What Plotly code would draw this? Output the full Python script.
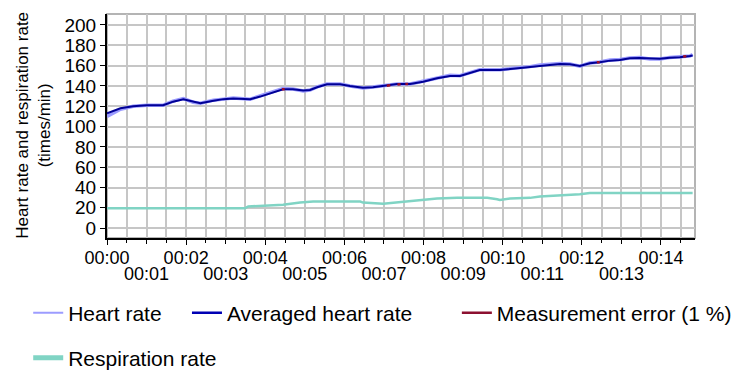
import plotly.graph_objects as go

# ---- data (minutes since start) ----
hr_time = [0.0, 0.34, 0.66, 1.01, 1.42, 1.67, 1.93, 2.18, 2.36, 2.69, 2.94, 3.19, 3.62, 3.87,
           4.12, 4.45, 4.70, 4.96, 5.13, 5.31, 5.56, 5.89, 6.14, 6.47, 6.72, 6.98, 7.33, 7.66,
           7.99, 8.34, 8.67, 8.92, 9.17, 9.42, 9.93, 10.35, 10.69, 10.94, 11.19, 11.45, 11.70,
           11.95, 12.20, 12.45, 12.71, 12.96, 13.21, 13.46, 13.72, 13.97, 14.22, 14.48, 14.73, 14.80]
heart_rate = [110, 117, 120, 121, 121, 125, 127.5, 124, 123, 126, 127, 128, 127, 130,
              133, 137.5, 137, 135, 136, 139, 142, 142, 140, 138, 139, 140, 142, 142,
              145, 148, 150.5, 150, 153, 156, 156, 157.5, 159, 160.5, 161, 162, 161.5,
              159.5, 162.5, 163.5, 165.5, 166, 167.5, 168, 166.5, 166.5, 168, 168.5, 169.5, 171]
avg_heart_rate = [113, 118, 120, 121, 121, 124.5, 126.9, 124.2, 123, 125.5, 127, 127.5, 127, 129.5,
                  132.8, 136.7, 136.7, 135.4, 136, 138.7, 141.6, 141.6, 140, 138.3, 138.7, 140, 141.9, 141.9,
                  144.2, 147.5, 149.8, 149.8, 153, 155.7, 155.7, 157.4, 159, 160.3, 160.7, 161.6, 161.3,
                  159.6, 162.3, 163.3, 164.9, 165.5, 167.2, 167.5, 166.8, 166.8, 167.8, 168.2, 169.5, 170]

err_time = [4.42, 4.49, None, 7.07, 7.16, None, 7.34, 7.42, None, 7.54, 7.61, None,
            12.38, 12.45, None, 14.56, 14.64]
err_value = [136.7, 136.7, None, 140.2, 140.6, None, 141.5, 141.7, None, 141.9, 141.9, None,
             163.2, 163.4, None, 169.0, 169.2]

resp_time = [0.0, 3.49, 3.57, 4.12, 4.45, 4.88, 5.21, 6.40, 6.47, 6.98, 7.33, 7.66, 7.99,
             8.34, 8.85, 9.61, 9.86, 9.93, 10.19, 10.69, 10.94, 11.45, 11.70, 11.95, 12.20, 14.80]
resp_rate = [19.7, 19.7, 21.3, 22, 23, 25.2, 26.2, 26.2, 25.2, 24, 25.2, 26.2, 27.8,
             29.1, 29.8, 29.8, 28.5, 27.8, 29.1, 29.8, 31.1, 32.1, 33, 33.4, 34.7, 34.7]

even_minutes = [0, 2, 4, 6, 8, 10, 12, 14]
even_labels = ["00:00", "00:02", "00:04", "00:06", "00:08", "00:10", "00:12", "00:14"]
odd_minutes = [1, 3, 5, 7, 9, 11, 13]
odd_labels = ["00:01", "00:03", "00:05", "00:07", "00:09", "00:11", "00:13"]
y_ticks = list(range(0, 201, 20))
y_title = "Heart rate and respiration rate<br>(times/min)"

FONT = "Liberation Sans, Arial, sans-serif"
XTICK_FS = 18
YTICK_FS = 19
LEG_FS = 21
TITLE_FS = 17
GRID = "#c6c6c6"

fig = go.Figure()
fig.add_trace(go.Scatter(x=hr_time, y=heart_rate, mode="lines", name="Heart rate",
                         line=dict(color="#9c9cff", width=3.5), showlegend=False))
fig.add_trace(go.Scatter(x=hr_time, y=avg_heart_rate, mode="lines", name="Averaged heart rate",
                         line=dict(color="#000096", width=2), showlegend=False))
fig.add_trace(go.Scatter(x=err_time, y=err_value, mode="lines", name="Measurement error (1 %)",
                         line=dict(color="#a0102a", width=2.5), showlegend=False))
fig.add_trace(go.Scatter(x=resp_time, y=resp_rate, mode="lines", name="Respiration rate",
                         line=dict(color="#80d4c4", width=2.5), showlegend=False))

# legend entries (one legend box per entry to place them like the reference)
fig.add_trace(go.Scatter(x=[None], y=[None], mode="lines", name="Heart rate",
                         line=dict(color="#9c9cff", width=2), legend="legend"))
fig.add_trace(go.Scatter(x=[None], y=[None], mode="lines", name="Averaged heart rate",
                         line=dict(color="#0000b4", width=2.5), legend="legend2"))
fig.add_trace(go.Scatter(x=[None], y=[None], mode="lines", name="Measurement error (1 %)",
                         line=dict(color="#8c1030", width=2.5), legend="legend3"))
fig.add_trace(go.Scatter(x=[None], y=[None], mode="lines", name="Respiration rate",
                         line=dict(color="#80d4c4", width=5), legend="legend4", xaxis="x2"))

legend_common = dict(font=dict(family=FONT, size=LEG_FS, color="black"), bgcolor="rgba(0,0,0,0)",
                     orientation="h", xanchor="left", yanchor="middle", borderwidth=0)
row1 = -0.335
row2 = -0.536
fig.update_layout(
    legend=dict(x=-0.134, y=row1, **legend_common),
    legend2=dict(x=0.136, y=row1, **legend_common),
    legend3=dict(x=0.595, y=row1, **legend_common),
    legend4=dict(x=-0.134, y=row2, **legend_common),
)

# the page body adds an 8 px offset, so the margins are shifted by 8 px
fig.update_layout(
    width=751, height=373,
    margin=dict(l=99, r=64, t=6, b=143, autoexpand=False),
    paper_bgcolor="white", plot_bgcolor="white",
    font=dict(family=FONT, size=XTICK_FS, color="black"),
    xaxis=dict(range=[0, 14.86], tickvals=even_minutes, ticktext=even_labels, tickangle=0,
               ticklabelstandoff=-3, automargin=False,
               showgrid=True, gridcolor=GRID, gridwidth=2,
               minor=dict(dtick=0.5, tick0=0, showgrid=True, gridcolor=GRID, gridwidth=2,
                          ticks="outside", ticklen=3, tickcolor="black"),
               ticks="outside", ticklen=5, tickcolor="black", tickwidth=1,
               showline=True, linecolor="black", linewidth=2, zeroline=False,
               tickfont=dict(family=FONT, size=XTICK_FS, color="black")),
    xaxis2=dict(matches="x", overlaying="x", side="bottom", anchor="y", automargin=False,
                tickvals=odd_minutes, ticktext=odd_labels, tickangle=0,
                ticklabelstandoff=14, showgrid=False, showline=False, zeroline=False,
                ticks="outside", ticklen=5, tickcolor="black",
                tickfont=dict(family=FONT, size=XTICK_FS, color="black")),
    yaxis=dict(range=[-9.7, 210.8], tickvals=y_ticks, automargin=False,
               showgrid=True, gridcolor=GRID, gridwidth=2,
               ticks="outside", ticklen=5, tickcolor="black", tickwidth=1,
               showline=True, linecolor="black", linewidth=2, zeroline=False,
               tickfont=dict(family=FONT, size=YTICK_FS, color="black")),
    shapes=[dict(type="rect", xref="paper", yref="paper", x0=0, x1=1, y0=0, y1=1,
                 line=dict(color="#b4b4b4", width=2), layer="below")],
    annotations=[dict(text=y_title, textangle=-90, xref="paper", yref="paper",
                      x=-0.1244, y=0.505, xanchor="center", yanchor="middle",
                      showarrow=False, font=dict(family=FONT, size=TITLE_FS, color="black"))],
)

fig.write_html("out.html")
